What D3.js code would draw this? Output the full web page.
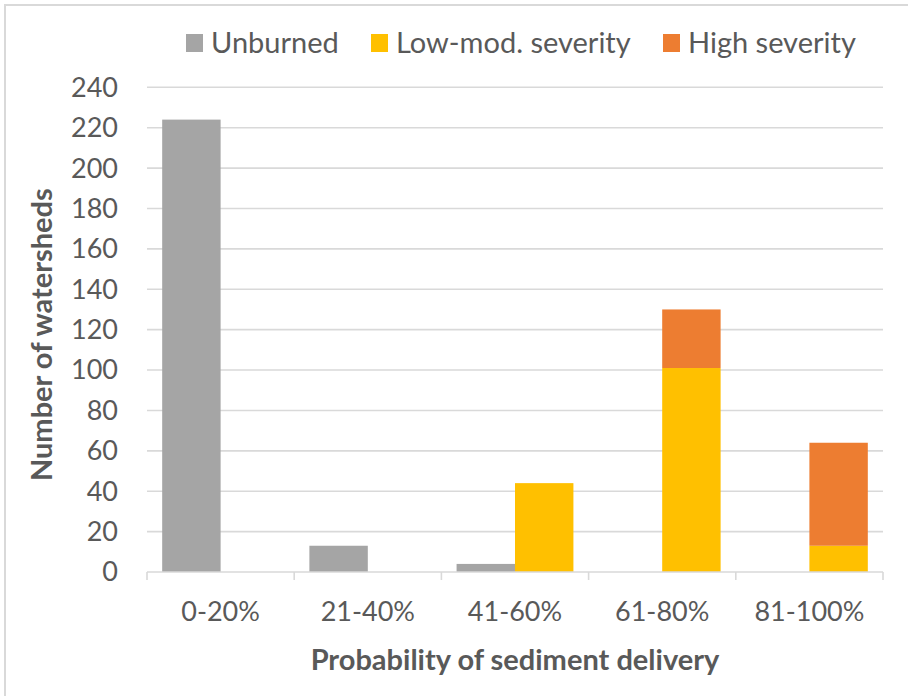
<!DOCTYPE html>
<html>
<head>
<meta charset="utf-8">
<script src="https://cdn.jsdelivr.net/npm/d3@7"></script>
<style>
  body { margin: 0; background: #fff; }
  svg { display: block; font-family: Lato, "Open Sans", sans-serif; }
</style>
</head>
<body>
<div id="vis"></div>
<script>
var width = 908,
	height = 696;

// chart data
var categories = ["0-20%", "21-40%", "41-60%", "61-80%", "81-100%"];
var unburned = [224, 13, 4, 0, 0];
var lowMod = [0, 0, 44, 101, 13];
var highSev = [0, 0, 0, 29, 51];
var seriesNames = ["Unburned", "Low-mod. severity", "High severity"];
var seriesColors = ["#a5a5a5", "#ffc000", "#ed7d31"];
var yTicks = d3.range(0, 241, 20);

var plotLeft = 147, plotRight = 883, plotTop = 87.3, plotBottom = 572;

var svg = d3.select("#vis").append("svg")
	.attr("width", width)
	.attr("height", height);

svg.append("rect")
	.attr("width", width).attr("height", height)
	.attr("fill", "#fff");

// outer chart border (only top/left visible)
svg.append("rect")
	.attr("x", 5).attr("y", 5)
	.attr("width", 930).attr("height", 720)
	.attr("fill", "none")
	.attr("stroke", "#d9d9d9")
	.attr("stroke-width", 2);

var x0 = d3.scaleBand()
	.domain(categories)
	.range([plotLeft, plotRight])
	.padding(0);

var x1 = d3.scaleBand()
	.domain(["unburned", "burned"])
	.range([0, x0.bandwidth()])
	.paddingInner(0)
	.paddingOuter(0.26);

var y = d3.scaleLinear()
	.domain([0, 240])
	.range([plotBottom, plotTop]);

// gridlines
svg.append("g")
	.selectAll("line")
	.data(yTicks.filter(function(d) { return d > 0; }))
	.enter().append("line")
	.attr("x1", plotLeft).attr("x2", plotRight)
	.attr("y1", function(d) { return y(d); })
	.attr("y2", function(d) { return y(d); })
	.attr("stroke", "#d9d9d9")
	.attr("stroke-width", 1.6);

// y tick labels
svg.append("g")
	.selectAll("text")
	.data(yTicks)
	.enter().append("text")
	.attr("x", 118)
	.attr("y", function(d) { return y(d); })
	.attr("dy", "0.35em")
	.attr("text-anchor", "end")
	.attr("fill", "#595959")
	.style("font-size", "27px")
	.text(function(d) { return d; });

// bars
var groups = svg.append("g")
	.selectAll("g")
	.data(categories)
	.enter().append("g")
	.attr("transform", function(d) { return "translate(" + x0(d) + ",0)"; });

groups.append("rect")
	.attr("x", x1("unburned"))
	.attr("width", x1.bandwidth())
	.attr("y", function(d, i) { return y(unburned[i]); })
	.attr("height", function(d, i) { return y(0) - y(unburned[i]); })
	.attr("fill", seriesColors[0]);

groups.append("rect")
	.attr("x", x1("burned"))
	.attr("width", x1.bandwidth())
	.attr("y", function(d, i) { return y(lowMod[i]); })
	.attr("height", function(d, i) { return y(0) - y(lowMod[i]); })
	.attr("fill", seriesColors[1]);

groups.append("rect")
	.attr("x", x1("burned"))
	.attr("width", x1.bandwidth())
	.attr("y", function(d, i) { return y(lowMod[i] + highSev[i]); })
	.attr("height", function(d, i) { return y(lowMod[i]) - y(lowMod[i] + highSev[i]); })
	.attr("fill", seriesColors[2]);

// x axis line + ticks
var xAxis = svg.append("g");
xAxis.append("line")
	.attr("x1", plotLeft).attr("x2", plotRight)
	.attr("y1", plotBottom).attr("y2", plotBottom)
	.attr("stroke", "#d9d9d9")
	.attr("stroke-width", 1.6);
xAxis.selectAll("line.tick")
	.data(categories.concat(["end"]))
	.enter().append("line")
	.attr("class", "tick")
	.attr("x1", function(d) { return d === "end" ? plotRight : x0(d); })
	.attr("x2", function(d) { return d === "end" ? plotRight : x0(d); })
	.attr("y1", plotBottom).attr("y2", plotBottom + 8)
	.attr("stroke", "#d9d9d9")
	.attr("stroke-width", 1.6);
xAxis.selectAll("text")
	.data(categories)
	.enter().append("text")
	.attr("x", function(d) { return x0(d) + x0.bandwidth() / 2; })
	.attr("y", 612)
	.attr("dy", "0.35em")
	.attr("text-anchor", "middle")
	.attr("fill", "#595959")
	.style("font-size", "27px")
	.text(function(d) { return d; });

// axis titles
svg.append("text")
	.attr("x", (plotLeft + plotRight) / 2)
	.attr("y", 660)
	.attr("dy", "0.35em")
	.attr("text-anchor", "middle")
	.attr("fill", "#595959")
	.style("font-size", "29px")
	.style("font-weight", "bold")
	.text("Probability of sediment delivery");

svg.append("text")
	.attr("transform", "translate(42," + ((plotTop + plotBottom) / 2 + 5) + ") rotate(-90)")
	.attr("dy", "0.35em")
	.attr("text-anchor", "middle")
	.attr("fill", "#595959")
	.style("font-size", "29px")
	.style("font-weight", "bold")
	.text("Number of watersheds");

// legend
var legendX = [186, 371, 663];
var legend = svg.append("g")
	.selectAll("g")
	.data(seriesNames)
	.enter().append("g")
	.attr("transform", function(d, i) { return "translate(" + legendX[i] + ",43)"; });
legend.append("rect")
	.attr("x", 0).attr("y", -9)
	.attr("width", 17).attr("height", 18)
	.attr("fill", function(d, i) { return seriesColors[i]; });
legend.append("text")
	.attr("x", 25)
	.attr("dy", "0.35em")
	.attr("fill", "#595959")
	.style("font-size", "29px")
	.text(function(d) { return d; });
</script>
</body>
</html>
